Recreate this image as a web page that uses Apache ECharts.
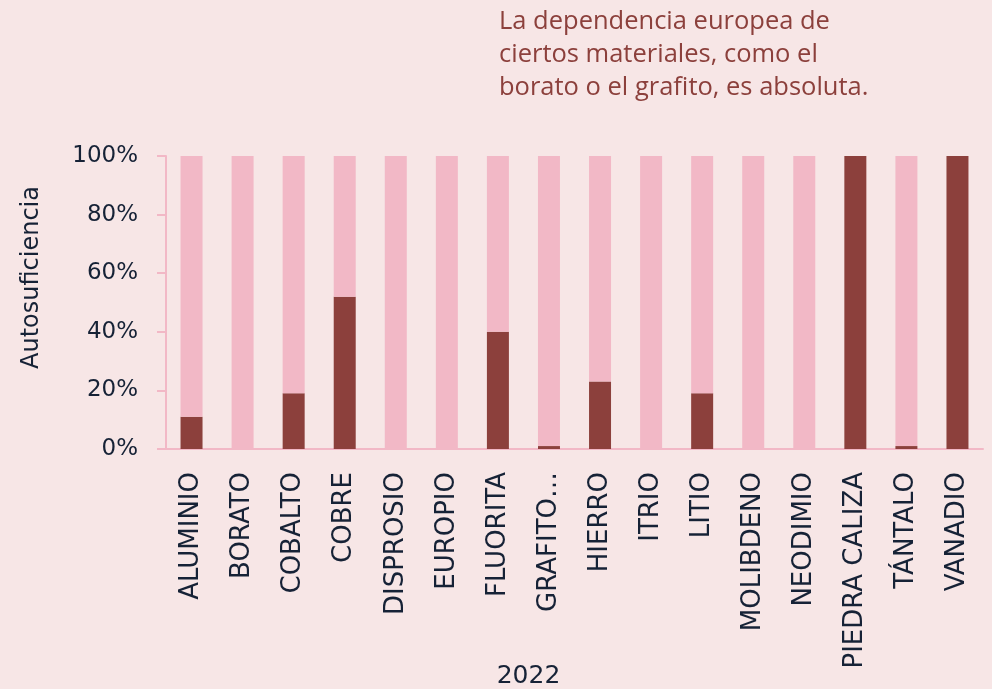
<!DOCTYPE html>
<html>
<head>
<meta charset="utf-8">
<title>Autosuficiencia</title>
<script src="https://cdn.jsdelivr.net/npm/echarts@6/dist/echarts.min.js"></script>
<style>
  html, body { margin: 0; padding: 0; background: #f7e6e6; }
  #chart { width: 992px; height: 689px; }
</style>
</head>
<body>
<div id="chart"></div>
<script>
// materiales y porcentajes
var materials = ['ALUMINIO', 'BORATO', 'COBALTO', 'COBRE', 'DISPROSIO', 'EUROPIO', 'FLUORITA', 'GRAFITO…',
  'HIERRO', 'ITRIO', 'LITIO', 'MOLIBDENO', 'NEODIMIO', 'PIEDRA CALIZA', 'TÁNTALO', 'VANADIO'];
var selfSufficiency = [11, 0, 19, 52, 0, 0, 40, 1, 23, 0, 19, 0, 0, 100, 1, 100];
var dependence = [89, 100, 81, 48, 100, 100, 60, 99, 77, 100, 81, 100, 100, 0, 99, 0];
var yTicks = [0, 20, 40, 60, 80, 100];

var titleText = 'La dependencia europea de\nciertos materiales, como el\nborato o el grafito, es absoluta.';

var darkRed = '#8c403c';
var pink = '#f2b8c6';
var ink = '#162236';

var chart = echarts.init(document.getElementById('chart'));

var option = {
  backgroundColor: '#f7e6e6',
  animation: false,
  title: {
    text: titleText,
    left: 499,
    top: 5,
    padding: 0,
    textStyle: {
      color: darkRed,
      fontFamily: 'Open Sans',
      fontWeight: 'normal',
      fontSize: 25.5,
      lineHeight: 33
    }
  },
  grid: {
    left: 166,
    right: 9,
    top: 156,
    bottom: 240,
    outerBoundsMode: 'none'
  },
  xAxis: {
    type: 'category',
    data: materials,
    name: '2022',
    nameLocation: 'middle',
    nameGap: 215,
    nameMoveOverlap: false,
    nameTextStyle: {
      color: ink,
      fontFamily: 'DejaVu Sans',
      fontSize: 25,
      padding: [0, 92, 0, 0]
    },
    axisLine: { lineStyle: { color: pink, width: 2 } },
    axisTick: { length: 9, lineStyle: { color: pink, width: 2 } },
    axisLabel: {
      interval: 0,
      rotate: 90,
      margin: 23,
      color: ink,
      fontFamily: 'DejaVu Sans',
      fontSize: 26
    }
  },
  yAxis: {
    type: 'value',
    min: yTicks[0],
    max: yTicks[yTicks.length - 1],
    interval: 20,
    name: 'Autosuficiencia',
    nameLocation: 'middle',
    nameGap: 122,
    nameMoveOverlap: false,
    nameTextStyle: {
      color: ink,
      fontFamily: 'DejaVu Sans',
      fontSize: 24,
      padding: [0, 0, 0, 50]
    },
    axisLine: { show: true, lineStyle: { color: pink, width: 2 } },
    axisTick: { show: true, length: 9, lineStyle: { color: pink, width: 2 } },
    splitLine: { show: false },
    axisLabel: {
      margin: 28,
      color: ink,
      fontFamily: 'DejaVu Sans',
      fontSize: 23,
      formatter: '{value}%'
    }
  },
  series: [
    {
      name: 'Autosuficiencia',
      type: 'bar',
      stack: 'total',
      barWidth: 22,
      itemStyle: { color: darkRed },
      data: selfSufficiency
    },
    {
      name: 'Dependencia',
      type: 'bar',
      stack: 'total',
      barWidth: 22,
      itemStyle: { color: pink },
      data: dependence
    }
  ]
};

chart.setOption(option);
</script>
</body>
</html>
